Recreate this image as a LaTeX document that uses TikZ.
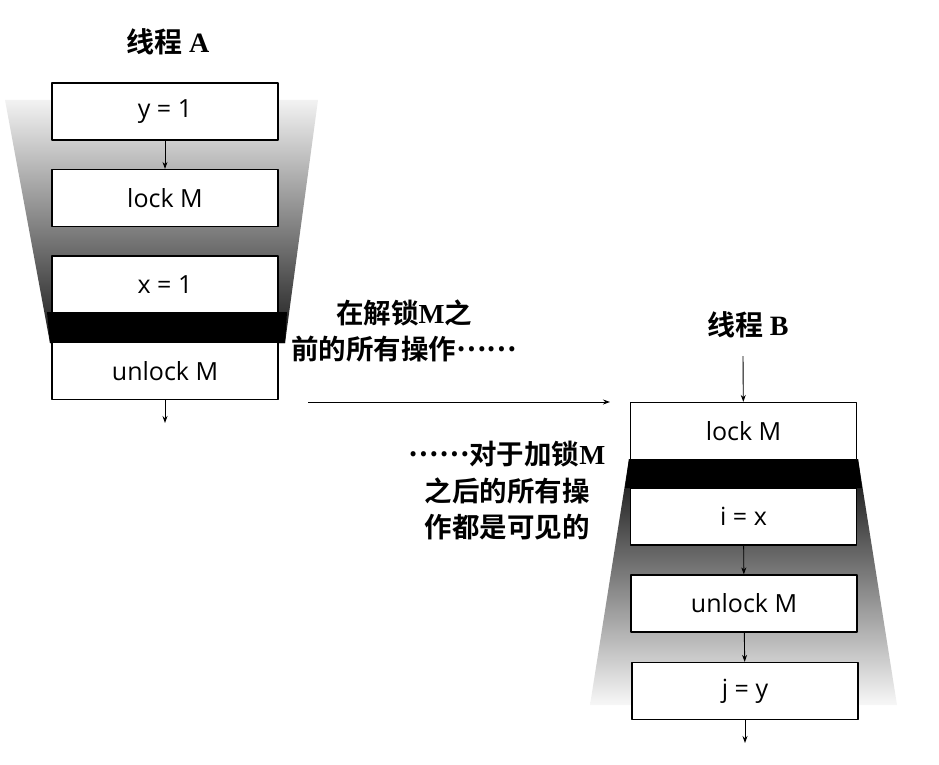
\documentclass[tikz,border=0pt]{standalone}
\usepackage{fontspec}
\setmainfont{Liberation Serif}
\setsansfont{Open Sans}
\newfontfamily\cjk{Noto Sans CJK SC}[BoldFont={Noto Sans CJK SC Bold}]
\usetikzlibrary{arrows.meta,positioning}
\newcommand\romb[1]{{\rmfamily\bfseries #1}}
\newcommand\middots{\raisebox{0.32em}{……}}

\begin{document}
\begin{tikzpicture}[x=1pt,y=-1pt,line join=round,
    stepbox/.style={draw,line width=1.2pt,fill=white,minimum width=226pt,
      minimum height=57pt,inner sep=0pt,font=\sffamily\fontsize{25}{30}\selectfont},
    flow/.style={-{Stealth[length=7pt,width=5pt]},line width=0.9pt},
    title/.style={font=\cjk\bfseries\fontsize{28}{32}\selectfont},
    note/.style={font=\cjk\bfseries\fontsize{27.5}{36.5}\selectfont,align=center}]
  \useasboundingbox (0,0) rectangle (939,765);
  % shadows of the two threads
  \shade[top color=black!5,middle color=black!45,bottom color=black!90]
    (5,100) -- (318,100) -- (285,343) -- (50,343) -- cycle;
  \fill[black] (47,312) -- (287,312) -- (285,343) -- (50,343) -- cycle;
  \shade[top color=black!95,middle color=black!50,bottom color=black!3]
    (629,459) -- (858,459) -- (897,705) -- (590,705) -- cycle;
  \fill[black] (629,459) -- (858,459) -- (862,488) -- (625,488) -- cycle;
  % thread A
  \node[title] (tA) at (168,42) {线程 \romb{A}};
  \node[stepbox] (yA) at (165,111.5) {y = 1};
  \node[stepbox] (lockA) at (165,198) {lock M};
  \node[stepbox] (xA) at (165,284.5) {x = 1};
  \node[stepbox] (unlockA) at (165,371) {unlock M};
  \coordinate (outA) at (165,423);
  \draw[flow] (yA) -- (lockA);
  \draw[flow] (unlockA) -- (outA);
  % thread B
  \node[title] (tB) at (748,325) {线程 \romb{B}};
  \coordinate (inB) at (743,356);
  \node[stepbox] (lockB) at (743.5,431) {lock M};
  \node[stepbox] (ixB) at (743.5,516.5) {i = x};
  \node[stepbox] (unlockB) at (744,603.5) {unlock M};
  \node[stepbox] (jyB) at (745,691) {j = y};
  \coordinate (outB) at (745,743);
  \draw[flow] (inB) -- (lockB);
  \draw[flow] (ixB) -- (unlockB);
  \draw[flow] (unlockB) -- (jyB);
  \draw[flow] (jyB) -- (outB);
  % happens-before
  \coordinate (relA) at (308,402);
  \coordinate (acqB) at (610,402);
  \draw[flow] (relA) -- (acqB);
  \node[note] (before) at (404,331) {在解锁\romb{M}之\\前的所有操作\middots};
  \node[note] (after) at (507,491) {\middots 对于加锁\romb{M}\\之后的所有操\\作都是可见的};
\end{tikzpicture}
\end{document}
